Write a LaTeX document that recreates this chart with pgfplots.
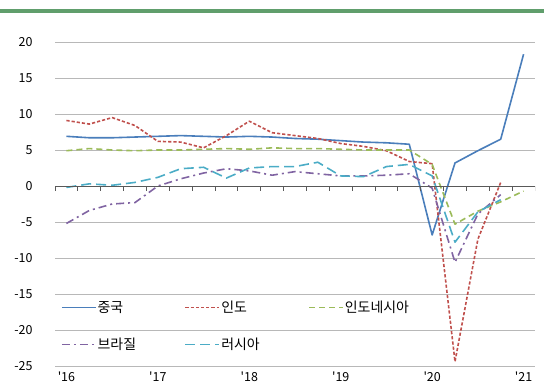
\documentclass[border=0pt]{standalone}
\usepackage{pgfplots}
\pgfplotsset{compat=1.18}
\usepackage{fontspec}
\newfontfamily\kr{Noto Sans CJK KR}

\definecolor{cnblue}{HTML}{4A7EBB}
\definecolor{inred}{HTML}{C0504D}
\definecolor{idgreen}{HTML}{9BBB59}
\definecolor{brpurple}{HTML}{8064A2}
\definecolor{rucyan}{HTML}{4BACC6}
\definecolor{topbar}{RGB}{96,158,108}

\begin{document}
\begin{tikzpicture}
\path[use as bounding box] (0,0) rectangle (544bp,392bp);
\draw[topbar, line width=3.2bp] (0,381bp) -- (544bp,381bp);
\begin{axis}[
  at={(55bp,26bp)}, anchor=south west,
  scale only axis, width=480bp, height=324bp,
  font=\kr\fontsize{12.5}{15}\selectfont,
  xmin=-0.5, xmax=20.5, ymin=-25, ymax=20,
  xtick={0,4,8,12,16,20},
  xticklabels={'16,'17,'18,'19,'20,'21},
  ytick={-25,-20,...,20},
  yticklabels={-25,-20,-15,-10,-5,0,5,10,15,20},
  major tick length=0pt,
  axis line style={draw=none},
  ymajorgrids, grid style={black!28, line width=0.9bp},
  yticklabel style={anchor=east, xshift=-19bp},
  xticklabel style={anchor=north, yshift=-2bp},
  legend columns=3,
  legend cell align=left,
  legend image code/.code={\draw[#1] (0bp,0bp) -- (34bp,0bp);},
  legend style={
    at={(0.006,0.21)}, anchor=north west,
    draw=none, fill=none,
    row sep=22bp,
    nodes={text width=86bp, inner sep=1bp, align=left},
    font=\kr\fontsize{14}{16}\selectfont,
  },
  every axis plot/.append style={line width=1.6bp, line join=round},
]
% 중국
\addplot[cnblue] coordinates {
 (0,6.9) (1,6.7) (2,6.7) (3,6.8) (4,6.9) (5,7.0) (6,6.9) (7,6.8)
 (8,6.9) (9,6.8) (10,6.6) (11,6.5) (12,6.3) (13,6.1) (14,6.0) (15,5.8)
 (16,-6.8) (17,3.2) (18,4.9) (19,6.5) (20,18.3)};
\addlegendentry{중국}
% 인도
\addplot[inred, dash pattern=on 3.2bp off 2bp] coordinates {
 (0,9.1) (1,8.6) (2,9.5) (3,8.4) (4,6.2) (5,6.1) (6,5.3) (7,7.0)
 (8,9.0) (9,7.4) (10,7.0) (11,6.6) (12,5.9) (13,5.5) (14,4.9) (15,3.4)
 (16,3.1) (17,-24.4) (18,-7.4) (19,0.5)};
\addlegendentry{인도}
% 인도네시아
\addplot[idgreen, dash pattern=on 6bp off 4bp] coordinates {
 (0,4.9) (1,5.2) (2,5.0) (3,4.9) (4,5.0) (5,5.0) (6,5.1) (7,5.2)
 (8,5.1) (9,5.3) (10,5.2) (11,5.2) (12,5.1) (13,5.0) (14,5.0) (15,5.0)
 (16,3.0) (17,-5.3) (18,-3.5) (19,-2.2) (20,-0.7)};
\addlegendentry{인도네시아}
% 브라질
\addplot[brpurple, dash pattern=on 8bp off 4bp on 2bp off 4bp] coordinates {
 (0,-5.2) (1,-3.4) (2,-2.5) (3,-2.3) (4,0.0) (5,1.0) (6,1.8) (7,2.4)
 (8,2.1) (9,1.5) (10,2.0) (11,1.7) (12,1.4) (13,1.4) (14,1.5) (15,1.7)
 (16,-0.3) (17,-10.6) (18,-3.9) (19,-1.2)};
\addlegendentry{브라질}
% 러시아
\addplot[rucyan, dash pattern=on 10bp off 5bp] coordinates {
 (0,-0.2) (1,0.3) (2,0.1) (3,0.5) (4,1.2) (5,2.4) (6,2.6) (7,1.1)
 (8,2.5) (9,2.7) (10,2.7) (11,3.3) (12,1.4) (13,1.3) (14,2.7) (15,3.0)
 (16,1.4) (17,-7.8) (18,-3.6) (19,-1.9)};
\addlegendentry{러시아}
% horizontal axis at zero with tick marks between quarters
\draw[black!65, line width=0.9bp] (axis cs:-0.5,0) -- (axis cs:20.5,0);
\pgfplotsinvokeforeach{-0.5,0.5,1.5,2.5,3.5,4.5,5.5,6.5,7.5,8.5,9.5,10.5,
  11.5,12.5,13.5,14.5,15.5,16.5,17.5,18.5,19.5,20.5}{
  \draw[black!65, line width=0.9bp] (axis cs:#1,0) -- ([yshift=-5bp]axis cs:#1,0);
}
\end{axis}
\end{tikzpicture}
\end{document}
